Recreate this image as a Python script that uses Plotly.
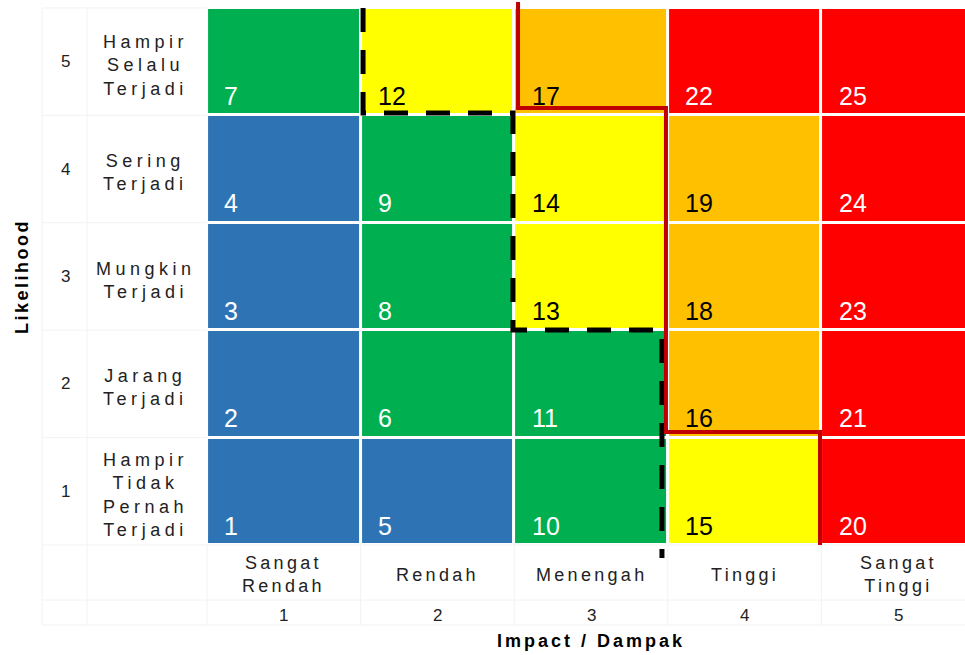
import plotly.graph_objects as go

# ---------------- data ----------------
impact_levels = [1, 2, 3, 4, 5]
impact_labels = [["Sangat", "Rendah"], ["Rendah"], ["Menengah"], ["Tinggi"], ["Sangat", "Tinggi"]]
likelihood_levels = [1, 2, 3, 4, 5]
likelihood_labels = [["Hampir", "Tidak", "Pernah", "Terjadi"], ["Jarang", "Terjadi"],
                     ["Mungkin", "Terjadi"], ["Sering", "Terjadi"], ["Hampir", "Selalu", "Terjadi"]]

# risk score shown in each cell, rows = likelihood 1..5, cols = impact 1..5
scores = [
    [1, 5, 10, 15, 20],
    [2, 6, 11, 16, 21],
    [3, 8, 13, 18, 23],
    [4, 9, 14, 19, 24],
    [7, 12, 17, 22, 25],
]
# colour class of each cell: 0 blue, 1 green, 2 yellow, 3 orange, 4 red
levels = [
    [0, 0, 1, 2, 4],
    [0, 1, 1, 3, 4],
    [0, 1, 2, 3, 4],
    [0, 1, 2, 3, 4],
    [1, 2, 3, 4, 4],
]
level_colors = ["#2E74B5", "#00B050", "#FFFF00", "#FFC000", "#FF0000"]
level_text = ["white", "white", "black", "black", "white"]

# boundary lines (impact, likelihood units)
dashed_x = [1.516, 1.516, 2.492, 2.492, 3.462, 3.462]
dashed_y = [5.5, 4.522, 4.522, 2.502, 2.502, 0.379]
red_x = [2.525, 2.525, 3.488, 3.488, 4.491, 4.491]
red_y = [5.556, 4.569, 4.569, 1.552, 1.552, 0.5]

# ---------------- figure ----------------
n = len(level_colors)
colorscale = []
for i, c in enumerate(level_colors):
    colorscale.append([i / n, c])
    colorscale.append([(i + 1) / n, c])

fig = go.Figure()
fig.add_trace(go.Heatmap(
    x=impact_levels, y=likelihood_levels, z=levels,
    zmin=-0.5, zmax=n - 0.5, colorscale=colorscale, showscale=False,
    xgap=3, ygap=3, hoverinfo="skip"))

fig.add_trace(go.Scatter(x=dashed_x, y=dashed_y, mode="lines",
                         line=dict(color="black", width=5, dash="24px,18px"),
                         hoverinfo="skip", showlegend=False))
fig.add_trace(go.Scatter(x=red_x, y=red_y, mode="lines",
                         line=dict(color="#C00000", width=4),
                         hoverinfo="skip", showlegend=False))

ann = []
for r, lik in enumerate(likelihood_levels):
    for c, imp in enumerate(impact_levels):
        ann.append(dict(x=imp - 0.5 + 0.1, y=lik - 0.5 + 0.18, xref="x", yref="y",
                        text=str(scores[r][c]), showarrow=False, xanchor="left",
                        yanchor="middle",
                        font=dict(family="Liberation Sans, Arial", size=25,
                                  color=level_text[levels[r][c]])))


def spaced(lines, sp):
    return "<br>".join('<span style="letter-spacing:%spx">%s</span>' % (sp, l) for l in lines)


lab_font = dict(family="Liberation Sans, Arial", size=18, color="#222222")
num_font = dict(family="Liberation Sans, Arial", size=17, color="#222222")
for lik, lab in zip(likelihood_levels, likelihood_labels):
    ann.append(dict(x=-0.424, y=lik, xref="x", yref="y", text=str(lik), showarrow=False,
                    font=num_font))
    ann.append(dict(x=0.1, y=lik - 0.035, xref="x", yref="y", text=spaced(lab, 4.5),
                    showarrow=False, font=lab_font))
for imp, lab in zip(impact_levels, impact_labels):
    ann.append(dict(x=imp, y=0.221, xref="x", yref="y", text=spaced(lab, 3.3),
                    showarrow=False, font=lab_font))
    ann.append(dict(x=imp, y=-0.152, xref="x", yref="y", text=str(imp),
                    showarrow=False, font=num_font))

title_font = dict(family="Liberation Sans, Arial", size=18, color="black")
ann.append(dict(x=3.0, y=-0.394, xref="x", yref="y",
                text='<b><span style="letter-spacing:3px">Impact / Dampak</span></b>',
                showarrow=False, font=title_font))
ann.append(dict(x=-0.704, y=2.995, xref="x", yref="y",
                text='<b><span style="letter-spacing:2.5px">Likelihood</span></b>',
                showarrow=False, textangle=-90, font=title_font))

# faint table lines in label area
faint = "#F2F2F2"
shapes = []
for xv in [-0.574, -0.281]:
    shapes.append(dict(type="line", x0=xv, x1=xv, y0=-0.245, y1=5.5, xref="x", yref="y",
                       line=dict(color=faint, width=1), layer="below"))
for yv in [1.5, 2.5, 3.5, 4.5, 5.5]:
    shapes.append(dict(type="line", x0=-0.574, x1=0.5, y0=yv, y1=yv, xref="x", yref="y",
                       line=dict(color=faint, width=1), layer="below"))
for yv in [0.5, -0.012, -0.245]:
    shapes.append(dict(type="line", x0=-0.574, x1=5.5, y0=yv, y1=yv, xref="x", yref="y",
                       line=dict(color=faint, width=1), layer="below"))
for xv in [0.5, 1.5, 2.5, 3.5, 4.5]:
    shapes.append(dict(type="line", x0=xv, x1=xv, y0=-0.245, y1=0.5, xref="x", yref="y",
                       line=dict(color=faint, width=1), layer="below"))

fig.update_layout(
    width=965, height=655, margin=dict(l=0, r=0, t=0, b=0),
    paper_bgcolor="white", plot_bgcolor="white",
    xaxis=dict(range=[-0.8477, 5.4349], visible=False, fixedrange=True),
    yaxis=dict(range=[-0.524, 5.574], visible=False, fixedrange=True),
    annotations=ann, shapes=shapes, showlegend=False,
)

fig.write_html("out.html")
